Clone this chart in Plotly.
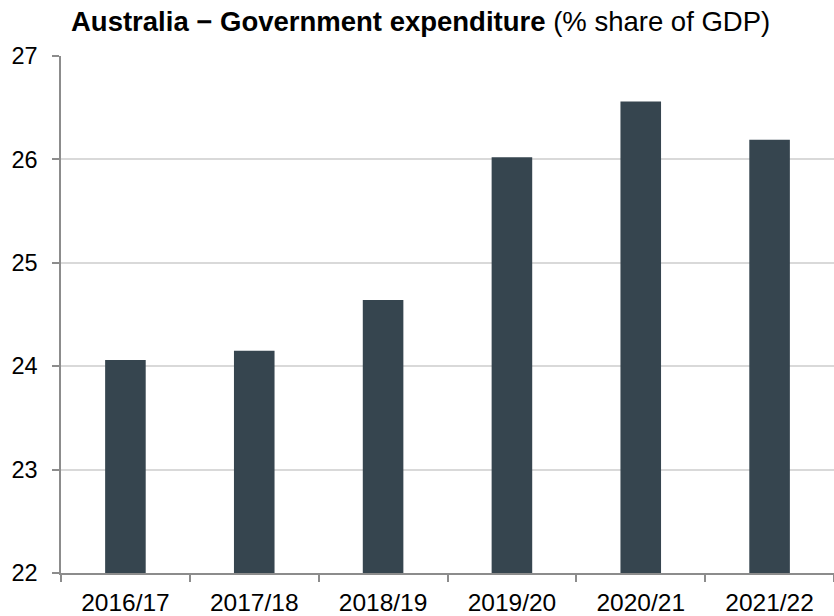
import plotly.graph_objects as go

# Fiscal years and government expenditure as % share of GDP
years = ["2016/17", "2017/18", "2018/19", "2019/20", "2020/21", "2021/22"]
expenditure = [24.06, 24.15, 24.64, 26.02, 26.56, 26.19]
y_ticks = [22, 23, 24, 25, 26, 27]

W, H = 834, 616
FONT = "Liberation Sans, Arial, sans-serif"

fig = go.Figure(
    go.Bar(
        x=years,
        y=expenditure,
        width=0.315,
        marker=dict(color="#36454f", line=dict(width=0)),
        hoverinfo="x+y",
    )
)

fig.update_layout(
    width=W,
    height=H,
    margin=dict(l=61, r=0, t=56, b=43),
    paper_bgcolor="white",
    plot_bgcolor="white",
    showlegend=False,
    font=dict(family=FONT, size=23, color="#000000"),
    title=dict(
        text="<b>Australia \u2212 Government expenditure</b> (% share of GDP)",
        font=dict(family=FONT, size=27.5, color="#000000"),
        xref="container",
        yref="container",
        x=71 / W,
        xanchor="left",
        y=1 - 21 / H,
        yanchor="middle",
    ),
    xaxis=dict(
        type="category",
        range=[-0.5, 5.5],
        tickson="boundaries",
        ticks="outside",
        ticklen=7,
        tickwidth=1.5,
        tickcolor="#8c8c8c",
        showline=True,
        linecolor="#8c8c8c",
        linewidth=1.5,
        showgrid=False,
        ticklabelstandoff=7,
        tickfont=dict(family=FONT, size=24.5, color="#000000"),
        fixedrange=True,
    ),
    yaxis=dict(
        range=[22, 27],
        tickvals=y_ticks,
        ticktext=[str(v) for v in y_ticks],
        ticks="outside",
        ticklen=7,
        tickwidth=1.5,
        tickcolor="#8c8c8c",
        showline=True,
        linecolor="#8c8c8c",
        linewidth=1.5,
        showgrid=True,
        gridcolor="#d9d9d9",
        gridwidth=1.5,
        zeroline=False,
        ticklabelstandoff=10,
        tickfont=dict(family=FONT, size=23.5, color="#000000"),
        fixedrange=True,
    ),
)

fig.write_html("out.html")
